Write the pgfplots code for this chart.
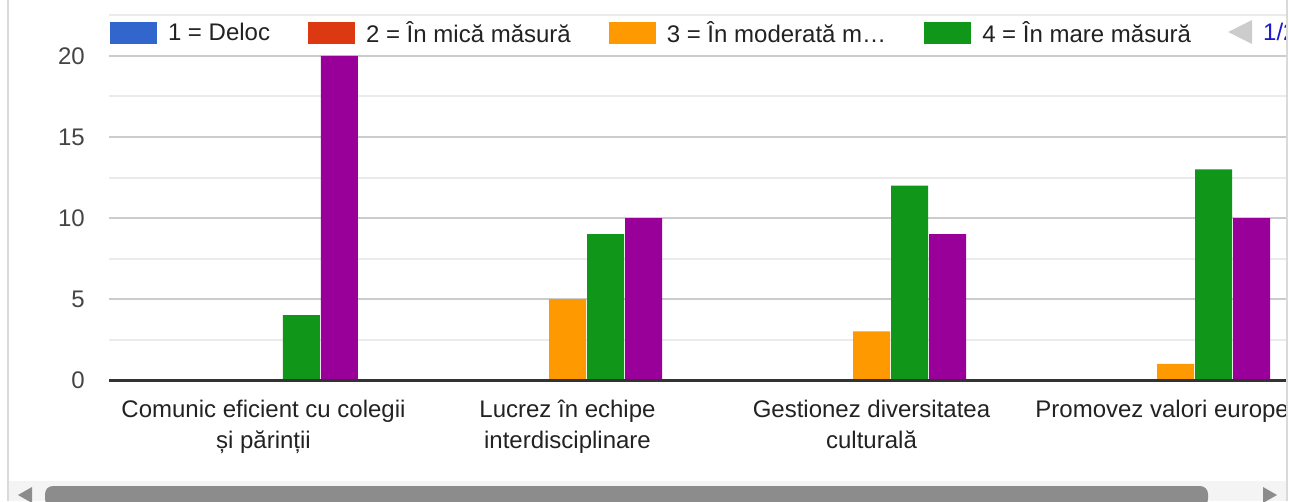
\documentclass[border=0pt]{standalone}
\usepackage{pgfplots}
\pgfplotsset{compat=1.18}
\usepackage{fontspec}
\setmainfont{Liberation Sans}
\definecolor{c1}{HTML}{3366CC}
\definecolor{c2}{HTML}{DC3912}
\definecolor{c3}{HTML}{FF9900}
\definecolor{c4}{HTML}{109618}
\definecolor{c5}{HTML}{990099}
\definecolor{cmaj}{HTML}{CCCCCC}
\definecolor{cmin}{HTML}{EBEBEB}
\definecolor{czero}{HTML}{333333}
\definecolor{ctick}{HTML}{444444}
\definecolor{ctext}{HTML}{222222}
\definecolor{cborder}{HTML}{DADADA}
\definecolor{ctrack}{HTML}{F4F4F4}
\definecolor{cthumb}{HTML}{8C8C8C}
\definecolor{carrow}{HTML}{CCCCCC}
\definecolor{cpage}{HTML}{1A1ACC}
\begin{document}
\begin{tikzpicture}[font=\fontsize{24}{31}\selectfont]
\path[use as bounding box] (0pt,0pt) rectangle (1289pt,501pt);
\begin{axis}[
  at={(109pt,121pt)}, anchor=south west,
  scale only axis, width=1177pt, height=372.6pt,
  xmin=-0.5082, xmax=3.3635, ymin=0, ymax=23,
  ybar=1pt, bar width=37pt,
  every axis plot/.append style={draw=none,
    legend image code/.code={\fill[##1] (0pt,-11pt) rectangle (47pt,11pt);}},
  axis line style={draw=none},
  major tick length=0pt, minor tick length=0pt,
  xtick={0,1,2,3},
  xticklabels={{Comunic eficient cu colegii\\și părinții},{Lucrez în echipe\\interdisciplinare},{Gestionez diversitatea\\culturală},{Promovez valori europene}},
  xticklabel style={align=center, inner sep=0pt, yshift=-20pt, text=ctext},
  ytick={0,5,10,15,20},
  minor ytick={2.5,7.5,12.5,17.5,22.5},
  ymajorgrids, yminorgrids,
  major grid style={draw=cmaj, line width=2pt},
  minor grid style={draw=cmin, line width=2pt},
  yticklabel style={inner sep=0pt, xshift=-24pt, text=ctick},
  /pgf/number format/assume math mode=true,
  tick label style={font=\fontsize{24}{31}\selectfont},
  clip mode=individual,
  legend columns=-1,
  legend style={at={(0.00085,0.9313)}, anchor=west, draw=none, fill=white,
    inner sep=0pt, outer sep=0pt, column sep=11pt,
    /tikz/every even column/.append style={column sep=38pt},
    nodes={inner sep=0pt, text=ctext}, font=\fontsize{24}{31}\selectfont},
]
\addplot[fill=c1] coordinates {(0,0) (1,0) (2,0) (3,0)};
\addplot[fill=c2] coordinates {(0,0) (1,0) (2,0) (3,0)};
\addplot[fill=c3] coordinates {(0,0) (1,5) (2,3) (3,1)};
\addplot[fill=c4] coordinates {(0,4) (1,9) (2,12) (3,13)};
\addplot[fill=c5] coordinates {(0,20) (1,10) (2,9) (3,10)};
\legend{1 = Deloc, 2 = În mică măsură, 3 = În moderată m…, 4 = În mare măsură}
\draw[czero, line width=3pt] (rel axis cs:0,0) -- (rel axis cs:1,0);
\end{axis}
% legend pager
\fill[carrow] (1228pt,469pt) -- (1252pt,481pt) -- (1252pt,457pt) -- cycle;
\node[anchor=west, inner sep=0pt, text=cpage] at (1263pt,469pt) {1/2};
% right cut
\fill[white] (1285.5pt,0pt) rectangle (1295pt,510pt);
% scrollbar
\fill[ctrack] (9pt,0pt) rectangle (1286pt,20pt);
\fill[cthumb, rounded corners=8pt] (45pt,-6pt) rectangle (1208pt,15pt);
\fill[cthumb] (18pt,6pt) -- (32pt,14pt) -- (32pt,-2pt) -- cycle;
\fill[cthumb] (1277pt,6pt) -- (1263pt,14pt) -- (1263pt,-2pt) -- cycle;
% borders
\draw[cborder, line width=2pt] (8pt,0pt) -- (8pt,501pt);
\draw[cborder, line width=2pt] (1287pt,0pt) -- (1287pt,501pt);
\end{tikzpicture}
\end{document}
